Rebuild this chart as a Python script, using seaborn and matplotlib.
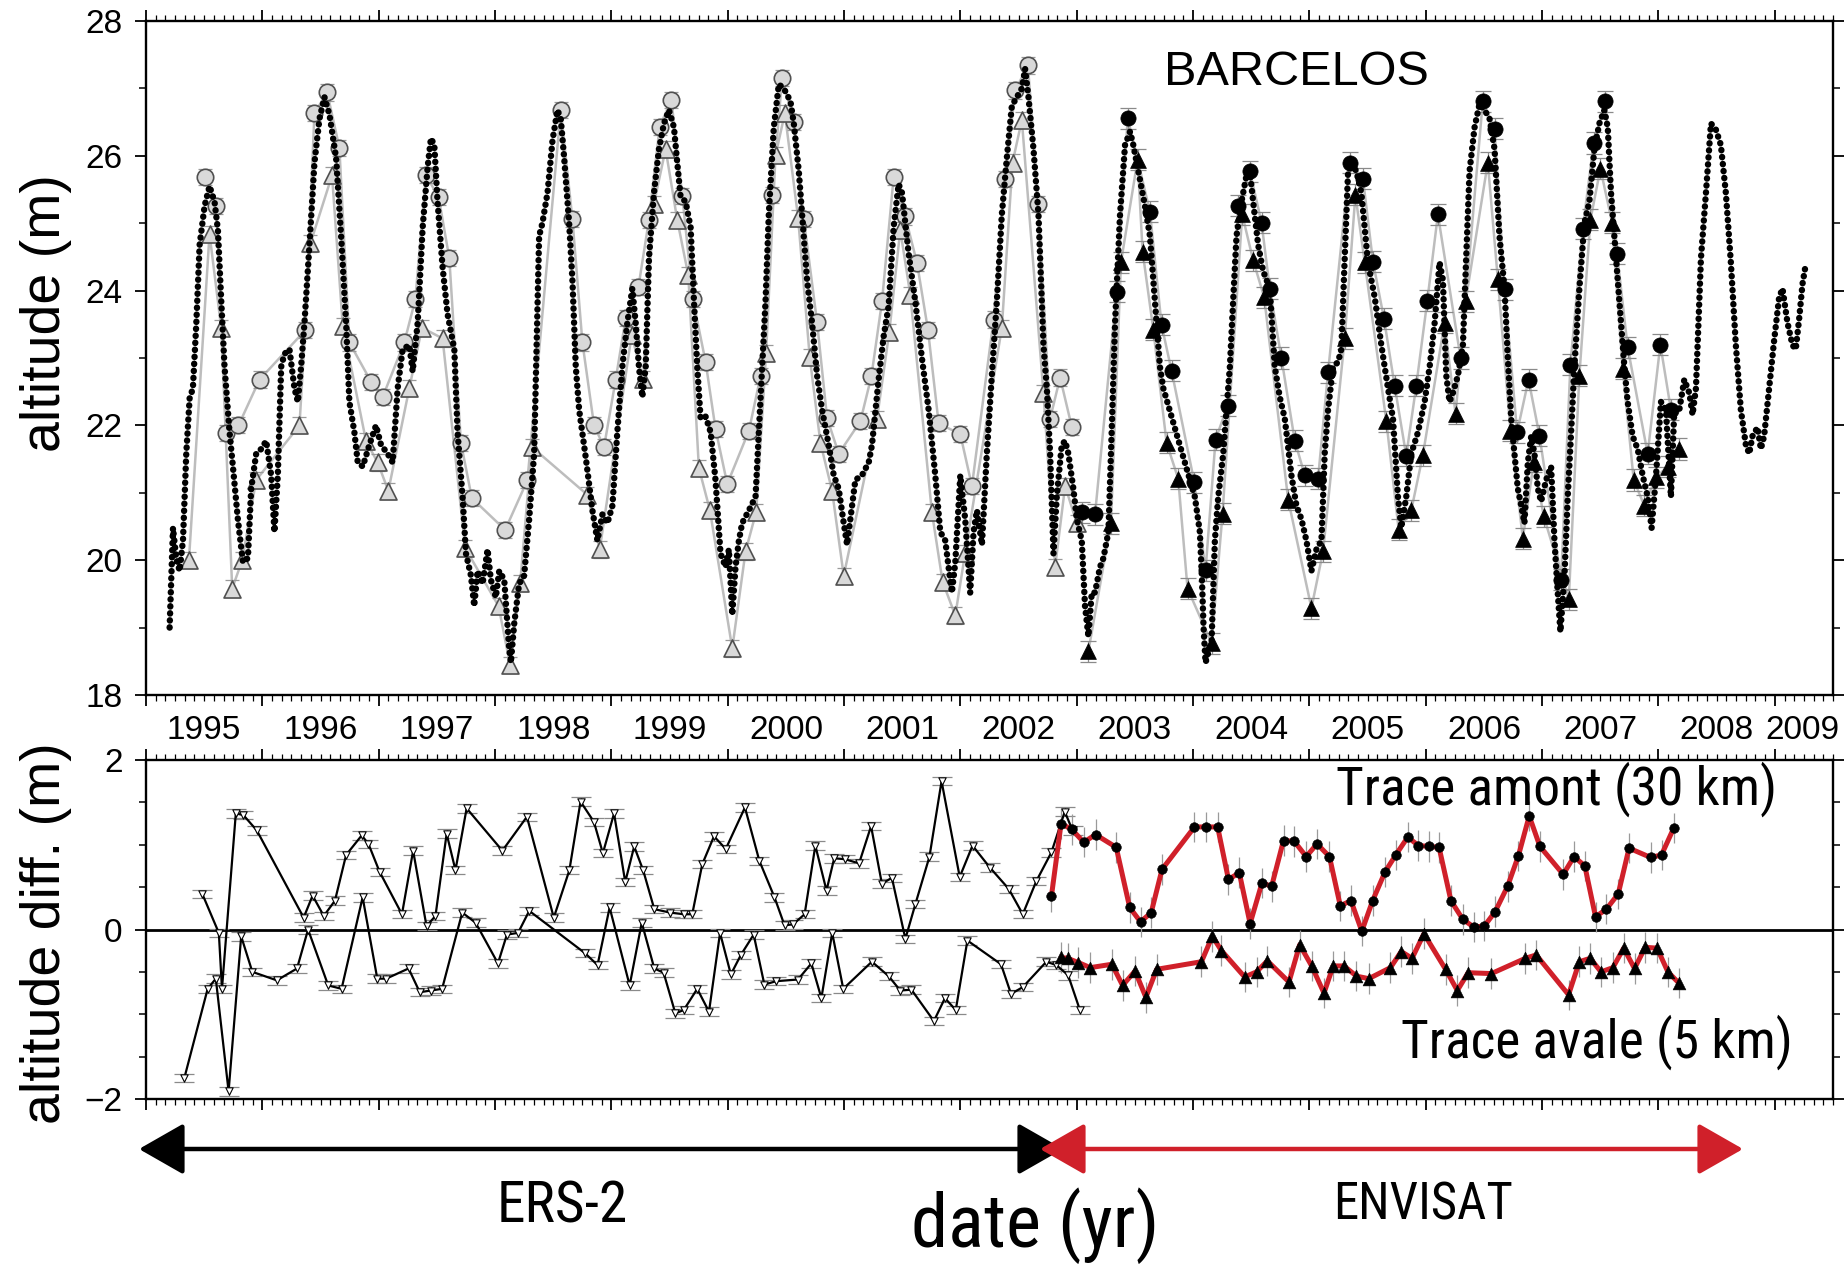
import numpy as np
import matplotlib
matplotlib.use("Agg")
import matplotlib.pyplot as plt
import matplotlib.transforms as mtransforms
from matplotlib import font_manager as fm
from matplotlib.patches import FancyArrowPatch, ArrowStyle
from matplotlib.ticker import MultipleLocator
import seaborn as sns

# ---------------- DATA ----------------
# in-situ gauge at Barcelos (year, altitude m)
gauge = [
    (1995.203, 19.00), (1995.232, 20.48), (1995.260, 20.03), (1995.289, 19.84), (1995.318, 20.30),
    (1995.346, 21.58), (1995.375, 22.40), (1995.403, 22.55), (1995.432, 23.50), (1995.461, 24.68),
    (1995.504, 25.26), (1995.546, 25.55), (1995.589, 25.32), (1995.618, 24.90), (1995.647, 23.84),
    (1995.675, 22.87), (1995.718, 21.90), (1995.747, 21.39), (1995.790, 20.60), (1995.833, 19.97),
    (1995.876, 20.03), (1995.904, 21.06), (1995.947, 21.58), (1995.990, 21.65), (1996.033, 21.77),
    (1996.076, 21.26), (1996.104, 20.42), (1996.133, 21.26), (1996.162, 22.87), (1996.190, 23.06),
    (1996.233, 23.13), (1996.276, 22.55), (1996.305, 22.35), (1996.333, 22.87), (1996.362, 23.52),
    (1996.405, 24.68), (1996.448, 25.90), (1996.491, 26.55), (1996.534, 26.87), (1996.577, 26.61),
    (1996.634, 25.97), (1996.677, 24.81), (1996.720, 23.52), (1996.748, 22.35), (1996.791, 21.90),
    (1996.820, 21.45), (1996.863, 21.39), (1996.920, 21.71), (1996.977, 22.00), (1997.020, 21.71),
    (1997.077, 21.58), (1997.120, 21.45), (1997.163, 22.55), (1997.206, 23.13), (1997.263, 23.19),
    (1997.292, 22.80), (1997.335, 23.52), (1997.378, 24.94), (1997.421, 25.84), (1997.449, 26.26),
    (1997.478, 26.16), (1997.506, 25.32), (1997.549, 24.35), (1997.592, 23.65), (1997.650, 23.13),
    (1997.678, 21.90), (1997.721, 20.94), (1997.750, 20.10), (1997.793, 19.77), (1997.821, 19.32),
    (1997.850, 19.84), (1997.893, 19.65), (1997.936, 20.16), (1997.964, 19.71), (1998.007, 19.45),
    (1998.036, 19.84), (1998.079, 19.71), (1998.122, 18.68), (1998.136, 18.48), (1998.165, 19.06),
    (1998.207, 19.65), (1998.250, 19.77), (1998.293, 20.60), (1998.336, 21.58), (1998.379, 24.81),
    (1998.407, 25.00), (1998.451, 25.45), (1998.494, 26.23), (1998.537, 26.68), (1998.565, 26.55),
    (1998.594, 25.97), (1998.637, 25.00), (1998.665, 24.16), (1998.694, 22.87), (1998.723, 22.23),
    (1998.780, 21.52), (1998.837, 20.74), (1998.880, 20.29), (1998.923, 20.68), (1998.966, 20.55),
    (1999.009, 20.81), (1999.051, 21.90), (1999.094, 22.87), (1999.137, 23.52), (1999.180, 24.03),
    (1999.209, 23.52), (1999.237, 22.87), (1999.266, 22.42), (1999.295, 22.87), (1999.323, 24.48),
    (1999.366, 25.45), (1999.409, 26.10), (1999.452, 26.48), (1999.495, 26.68), (1999.538, 26.42),
    (1999.566, 25.90), (1999.595, 25.39), (1999.638, 25.32), (1999.681, 24.94), (1999.710, 23.84),
    (1999.738, 22.87), (1999.767, 22.10), (1999.810, 22.13), (1999.853, 21.90), (1999.895, 21.19),
    (1999.938, 20.10), (1999.981, 19.90), (2000.010, 20.16), (2000.039, 19.19), (2000.067, 19.90),
    (2000.096, 20.29), (2000.124, 20.55), (2000.182, 20.74), (2000.239, 20.94), (2000.267, 21.90),
    (2000.296, 22.87), (2000.325, 23.84), (2000.353, 25.13), (2000.396, 26.42), (2000.439, 27.06),
    (2000.482, 27.00), (2000.539, 26.81), (2000.568, 26.48), (2000.611, 25.77), (2000.639, 25.13),
    (2000.682, 24.16), (2000.725, 23.52), (2000.768, 22.74), (2000.811, 22.23), (2000.868, 21.71),
    (2000.911, 21.26), (2000.954, 21.06), (2000.997, 20.55), (2001.026, 20.23), (2001.054, 20.61),
    (2001.097, 21.19), (2001.154, 21.26), (2001.212, 21.45), (2001.240, 21.71), (2001.297, 22.68),
    (2001.340, 23.32), (2001.383, 23.77), (2001.426, 24.94), (2001.469, 25.58), (2001.498, 25.45),
    (2001.555, 24.55), (2001.612, 23.84), (2001.669, 23.00), (2001.727, 22.23), (2001.784, 21.26),
    (2001.827, 20.42), (2001.870, 20.29), (2001.898, 19.90), (2001.927, 19.52), (2001.956, 19.97),
    (2001.999, 21.26), (2002.041, 20.61), (2002.084, 19.52), (2002.113, 20.42), (2002.142, 20.74),
    (2002.185, 20.23), (2002.227, 21.58), (2002.270, 22.74), (2002.313, 23.84), (2002.356, 25.13),
    (2002.399, 25.97), (2002.442, 26.74), (2002.485, 26.87), (2002.528, 27.00), (2002.556, 27.29),
    (2002.585, 26.87), (2002.628, 26.10), (2002.671, 25.13), (2002.714, 23.19), (2002.743, 22.55),
    (2002.771, 21.58), (2002.800, 20.10), (2002.828, 20.94), (2002.871, 21.71), (2002.900, 21.77),
    (2002.928, 21.58), (2002.971, 21.06), (2003.000, 20.61), (2003.043, 20.29), (2003.071, 19.32),
    (2003.100, 18.87), (2003.129, 19.52), (2003.157, 19.52), (2003.200, 19.90), (2003.229, 20.03),
    (2003.272, 20.42), (2003.300, 21.90), (2003.329, 23.52), (2003.372, 25.13), (2003.415, 26.16),
    (2003.458, 26.36), (2003.486, 26.16), (2003.529, 25.77), (2003.586, 25.26), (2003.629, 24.81),
    (2003.672, 23.84), (2003.715, 22.87), (2003.744, 22.55), (2004.015, 20.94), (2004.058, 20.42),
    (2004.075, 19.77), (2004.090, 19.00), (2004.107, 18.48), (2004.159, 18.81), (2004.187, 20.29),
    (2004.216, 20.94), (2004.259, 21.58), (2004.287, 22.23), (2004.316, 22.87), (2004.344, 23.84),
    (2004.373, 24.81), (2004.416, 25.32), (2004.459, 25.71), (2004.488, 25.77), (2004.516, 25.32),
    (2004.559, 24.68), (2004.602, 24.29), (2004.659, 24.03), (2004.702, 22.87), (2004.745, 22.42),
    (2004.788, 22.10), (2004.845, 21.26), (2004.888, 20.81), (2004.931, 20.61), (2004.974, 20.29),
    (2005.017, 19.84), (2005.060, 20.16), (2005.103, 20.29), (2005.131, 21.58), (2005.160, 22.23),
    (2005.203, 22.87), (2005.246, 22.94), (2005.274, 23.13), (2005.303, 24.48), (2005.332, 25.77),
    (2005.360, 25.90), (2005.403, 25.77), (2005.446, 25.45), (2005.503, 24.42), (2005.561, 23.90),
    (2005.618, 23.19), (2005.675, 22.55), (2005.718, 22.10), (2005.761, 20.94), (2005.789, 20.48),
    (2005.832, 20.94), (2005.875, 21.58), (2005.933, 21.90), (2005.990, 22.35), (2006.033, 22.87),
    (2006.076, 23.52), (2006.118, 24.42), (2006.147, 24.16), (2006.176, 22.74), (2006.204, 22.35),
    (2006.233, 22.48), (2006.276, 22.74), (2006.319, 23.19), (2006.347, 24.48), (2006.376, 25.77),
    (2006.419, 26.42), (2006.462, 26.77), (2006.505, 26.68), (2006.548, 26.55), (2006.591, 26.10),
    (2006.633, 24.81), (2006.677, 24.03), (2006.705, 23.00), (2006.734, 22.10), (2006.762, 21.58),
    (2006.791, 21.06), (2006.820, 20.81), (2006.848, 20.55), (2006.877, 21.45), (2006.906, 21.84),
    (2006.934, 21.58), (2006.963, 21.06), (2006.991, 20.87), (2007.034, 21.19), (2007.077, 21.39),
    (2007.106, 20.29), (2007.134, 19.52), (2007.157, 18.94), (2007.192, 19.77), (2007.220, 20.94),
    (2007.249, 21.90), (2007.277, 22.87), (2007.320, 24.03), (2007.363, 25.00), (2007.406, 25.32),
    (2007.449, 26.10), (2007.492, 26.48), (2007.535, 26.68), (2007.564, 26.42), (2007.592, 25.45),
    (2007.635, 24.48), (2007.678, 23.52), (2007.707, 22.87), (2007.735, 22.35), (2007.778, 21.84),
    (2007.821, 21.65), (2007.864, 21.26), (2007.907, 20.94), (2007.941, 20.48), (2007.979, 21.26),
    (2008.021, 22.35), (2008.064, 22.23), (2008.107, 20.94), (2008.136, 22.23), (2008.179, 22.23),
    (2008.222, 22.68), (2008.265, 22.48), (2008.293, 22.16), (2008.322, 22.55), (2008.365, 24.48),
    (2008.408, 25.45), (2008.451, 26.48), (2008.493, 26.39), (2008.536, 26.16), (2008.579, 25.45),
    (2008.622, 24.42), (2008.665, 23.19), (2008.708, 22.23), (2008.751, 21.71), (2008.780, 21.58),
    (2008.808, 21.84), (2008.851, 21.97), (2008.880, 21.65), (2008.908, 21.84), (2008.951, 22.55),
    (2008.994, 23.26), (2009.037, 23.90), (2009.066, 24.03), (2009.109, 23.52), (2009.152, 23.19),
    (2009.180, 23.13), (2009.209, 23.58), (2009.238, 24.10), (2009.266, 24.39),
]

# ERS-2 altimetry, upstream track (circles) and downstream track (triangles)
ers_amont_alt = [
    (1995.504, 25.68), (1995.604, 25.25), (1995.690, 21.89), (1995.795, 22.00), (1995.976, 22.68),
    (1996.368, 23.41), (1996.448, 26.63), (1996.557, 26.94), (1996.662, 26.12), (1996.748, 23.23),
    (1996.934, 22.65), (1997.034, 22.42), (1997.220, 23.23), (1997.315, 23.87), (1997.406, 25.71),
    (1997.515, 25.39), (1997.607, 24.48), (1997.707, 21.74), (1997.801, 20.92), (1998.087, 20.45),
    (1998.279, 21.19), (1998.565, 26.68), (1998.665, 25.06), (1998.751, 23.23), (1998.851, 22.00),
    (1998.937, 21.68), (1999.037, 22.68), (1999.123, 23.59), (1999.232, 24.05), (1999.323, 25.05),
    (1999.415, 26.43), (1999.515, 26.83), (1999.610, 25.40), (1999.701, 23.87), (1999.810, 22.94),
    (1999.895, 21.95), (1999.996, 21.13), (2000.182, 21.92), (2000.282, 22.73), (2000.382, 25.42),
    (2000.468, 27.16), (2000.568, 26.50), (2000.654, 25.06), (2000.768, 23.53), (2000.854, 22.11),
    (2000.954, 21.58), (2001.140, 22.06), (2001.235, 22.73), (2001.326, 23.84), (2001.426, 25.68),
    (2001.526, 25.10), (2001.627, 24.41), (2001.721, 23.42), (2001.813, 22.03), (2001.999, 21.87),
    (2002.099, 21.10), (2002.285, 23.57), (2002.385, 25.66), (2002.471, 26.97), (2002.580, 27.34),
    (2002.671, 25.29), (2002.771, 22.10), (2002.857, 22.71), (2002.957, 21.98),
]
ers_avale_alt = [
    (1995.369, 20.00), (1995.546, 24.84), (1995.647, 23.44), (1995.741, 19.58), (1995.827, 20.00),
    (1995.947, 21.19), (1996.319, 22.00), (1996.413, 24.70), (1996.599, 25.71), (1996.691, 23.48),
    (1996.891, 21.77), (1996.991, 21.45), (1997.083, 21.03), (1997.263, 22.55), (1997.372, 23.45),
    (1997.549, 23.29), (1997.744, 20.18), (1998.030, 19.32), (1998.130, 18.44), (1998.216, 19.66),
    (1998.316, 21.68), (1998.794, 20.97), (1998.900, 20.16), (1999.174, 23.34), (1999.272, 22.69),
    (1999.366, 25.29), (1999.466, 26.10), (1999.566, 25.05), (1999.661, 24.23), (1999.752, 21.37),
    (1999.847, 20.74), (2000.039, 18.69), (2000.153, 20.13), (2000.245, 20.72), (2000.330, 23.08),
    (2000.411, 26.01), (2000.491, 26.63), (2000.605, 25.08), (2000.705, 23.01), (2000.797, 21.74),
    (2000.897, 21.03), (2000.997, 19.77), (2001.283, 22.10), (2001.389, 23.39), (2001.483, 24.90),
    (2001.569, 23.94), (2001.755, 20.71), (2001.847, 19.68), (2001.956, 19.18), (2002.041, 20.11),
    (2002.356, 23.45), (2002.448, 25.90), (2002.528, 26.53), (2002.714, 22.48), (2002.814, 19.90),
    (2002.900, 21.10), (2003.000, 20.55),
]
# ENVISAT altimetry, upstream (circles) and downstream (triangles)
env_amont_alt = [
    (2003.043, 20.71), (2003.157, 20.68), (2003.343, 23.98), (2003.438, 26.56), (2003.629, 25.17),
    (2003.729, 23.49), (2003.815, 22.81), (2004.010, 21.16), (2004.107, 19.85), (2004.193, 21.79),
    (2004.296, 22.29), (2004.387, 25.26), (2004.488, 25.77), (2004.588, 25.01), (2004.659, 24.03),
    (2004.759, 23.00), (2004.874, 21.77), (2004.960, 21.26), (2005.074, 21.21), (2005.160, 22.79),
    (2005.346, 25.90), (2005.460, 25.66), (2005.546, 24.43), (2005.641, 23.58), (2005.732, 22.59),
    (2005.832, 21.55), (2005.918, 22.59), (2006.013, 23.85), (2006.104, 25.13), (2006.299, 23.00),
    (2006.490, 26.81), (2006.591, 26.40), (2006.677, 24.02), (2006.785, 21.90), (2006.883, 22.68),
    (2006.977, 21.85), (2007.163, 19.71), (2007.243, 22.90), (2007.349, 24.92), (2007.443, 26.19),
    (2007.544, 26.81), (2007.644, 24.55), (2007.735, 23.16), (2007.907, 21.58), (2008.016, 23.20),
    (2008.107, 22.23),
]
env_avale_alt = [
    (2003.100, 18.65), (2003.294, 20.55), (2003.380, 24.42), (2003.523, 25.94), (2003.566, 24.58),
    (2003.658, 23.42), (2003.772, 21.74), (2003.872, 21.21), (2003.952, 19.58), (2004.159, 18.77),
    (2004.253, 20.69), (2004.422, 25.13), (2004.516, 24.45), (2004.611, 23.90), (2004.817, 20.90),
    (2005.017, 19.29), (2005.117, 20.13), (2005.303, 23.29), (2005.395, 25.42), (2005.475, 24.42),
    (2005.661, 22.06), (2005.767, 20.45), (2005.875, 20.74), (2005.975, 21.56), (2006.161, 23.52),
    (2006.256, 22.17), (2006.342, 23.84), (2006.533, 25.90), (2006.619, 24.17), (2006.728, 21.92),
    (2006.834, 20.32), (2006.928, 21.46), (2007.014, 20.65), (2007.229, 19.42), (2007.320, 22.74),
    (2007.415, 25.05), (2007.501, 25.81), (2007.601, 25.01), (2007.692, 22.84), (2007.787, 21.19),
    (2007.878, 20.81), (2007.979, 21.23), (2008.079, 21.39), (2008.179, 21.65),
]

# altitude differences (satellite - gauge), m
ers_amont_diff = [
    (1995.484, 0.42), (1995.626, -0.04), (1995.653, -0.70), (1995.772, 1.37), (1995.837, 1.35),
    (1995.952, 1.17), (1996.355, 0.14), (1996.432, 0.40), (1996.528, 0.16), (1996.624, 0.34),
    (1996.720, 0.88), (1996.854, 1.11), (1996.912, 1.01), (1997.008, 0.68), (1997.200, 0.18),
    (1997.296, 0.93), (1997.411, 0.04), (1997.488, 0.16), (1997.584, 1.13), (1997.660, 0.70),
    (1997.756, 1.43), (1998.063, 0.93), (1998.274, 1.33), (1998.505, 0.14), (1998.639, 0.70),
    (1998.735, 1.51), (1998.850, 1.27), (1998.927, 0.90), (1999.023, 1.37), (1999.119, 0.56),
    (1999.196, 0.98), (1999.273, 0.70), (1999.369, 0.24), (1999.503, 0.20), (1999.622, 0.18),
    (1999.695, 0.18), (1999.781, 0.77), (1999.882, 1.10), (1999.983, 0.95), (2000.148, 1.44),
    (2000.272, 0.81), (2000.402, 0.38), (2000.488, 0.05), (2000.560, 0.06), (2000.661, 0.18),
    (2000.753, 0.99), (2000.849, 0.46), (2000.915, 0.84), (2001.007, 0.83), (2001.129, 0.78),
    (2001.232, 1.22), (2001.325, 0.54), (2001.411, 0.61), (2001.527, -0.11), (2001.613, 0.30),
    (2001.734, 0.86), (2001.838, 1.75), (2001.994, 0.62), (2002.104, 0.99), (2002.254, 0.73),
    (2002.415, 0.48), (2002.536, 0.18), (2002.652, 0.57), (2002.782, 0.91), (2002.897, 1.39),
    (2002.964, 1.17),
]
ers_avale_diff = [
    (1995.330, -1.75), (1995.530, -0.70), (1995.600, -0.58), (1995.710, -1.91), (1995.818, -0.08),
    (1995.914, -0.50), (1996.125, -0.60), (1996.298, -0.46), (1996.393, 0.00), (1996.566, -0.66),
    (1996.681, -0.70), (1996.862, 0.38), (1996.988, -0.58), (1997.065, -0.58), (1997.257, -0.46),
    (1997.353, -0.74), (1997.449, -0.72), (1997.545, -0.70), (1997.718, 0.20), (1997.833, 0.08),
    (1998.025, -0.40), (1998.102, -0.06), (1998.198, -0.04), (1998.294, 0.22), (1998.774, -0.28),
    (1998.881, -0.42), (1998.985, 0.26), (1999.157, -0.66), (1999.261, 0.08), (1999.369, -0.46),
    (1999.449, -0.51), (1999.550, -0.99), (1999.622, -0.95), (1999.738, -0.70), (1999.839, -0.97),
    (1999.934, -0.04), (2000.027, -0.53), (2000.113, -0.30), (2000.223, -0.06), (2000.315, -0.65),
    (2000.416, -0.61), (2000.604, -0.59), (2000.719, -0.40), (2000.805, -0.81), (2000.898, -0.04),
    (2000.993, -0.70), (2001.239, -0.38), (2001.383, -0.55), (2001.483, -0.72), (2001.579, -0.71),
    (2001.772, -1.08), (2001.867, -0.81), (2001.960, -0.95), (2002.060, -0.13), (2002.349, -0.41),
    (2002.435, -0.76), (2002.536, -0.68), (2002.739, -0.38), (2002.825, -0.42), (2002.926, -0.54),
    (2003.027, -0.95),
]
env_amont_diff = [
    (2002.782, 0.39), (2002.865, 1.25), (2002.958, 1.18), (2003.060, 1.03), (2003.162, 1.12),
    (2003.339, 0.97), (2003.455, 0.26), (2003.548, 0.09), (2003.640, 0.20), (2003.733, 0.71),
    (2004.012, 1.21), (2004.114, 1.21), (2004.211, 1.21), (2004.304, 0.59), (2004.397, 0.67),
    (2004.490, 0.07), (2004.592, 0.55), (2004.675, 0.51), (2004.777, 1.05), (2004.870, 1.04),
    (2004.972, 0.86), (2005.065, 1.01), (2005.172, 0.86), (2005.265, 0.28), (2005.357, 0.34),
    (2005.450, -0.02), (2005.543, 0.34), (2005.650, 0.68), (2005.742, 0.88), (2005.845, 1.09),
    (2005.937, 0.99), (2006.030, 0.98), (2006.114, 0.97), (2006.216, 0.34), (2006.318, 0.12),
    (2006.411, 0.03), (2006.503, 0.04), (2006.596, 0.21), (2006.703, 0.51), (2006.796, 0.87),
    (2006.889, 1.34), (2006.981, 0.98), (2007.181, 0.65), (2007.274, 0.86), (2007.367, 0.75),
    (2007.459, 0.15), (2007.552, 0.24), (2007.654, 0.42), (2007.747, 0.96), (2007.933, 0.85),
    (2008.026, 0.88), (2008.132, 1.20),
]
env_avale_diff = [
    (2002.865, -0.33), (2002.921, -0.34), (2003.014, -0.39), (2003.116, -0.45), (2003.302, -0.41),
    (2003.394, -0.66), (2003.501, -0.49), (2003.594, -0.80), (2003.687, -0.47), (2004.072, -0.38),
    (2004.165, -0.08), (2004.244, -0.25), (2004.443, -0.56), (2004.545, -0.50), (2004.638, -0.37),
    (2004.824, -0.62), (2004.916, -0.18), (2005.019, -0.43), (2005.125, -0.75), (2005.204, -0.43),
    (2005.297, -0.43), (2005.404, -0.55), (2005.510, -0.58), (2005.696, -0.45), (2005.789, -0.26),
    (2005.882, -0.34), (2005.984, -0.05), (2006.170, -0.47), (2006.271, -0.72), (2006.364, -0.51),
    (2006.564, -0.52), (2006.856, -0.34), (2006.949, -0.30), (2007.227, -0.77), (2007.320, -0.38),
    (2007.413, -0.34), (2007.506, -0.50), (2007.608, -0.45), (2007.701, -0.22), (2007.794, -0.46),
    (2007.886, -0.21), (2007.988, -0.22), (2008.081, -0.50), (2008.174, -0.63),
]
alt_err = 0.12       # altimetry error bar, top panel (m)
ers_diff_err = 0.05  # ERS-2 difference error bar (m)
env_diff_err = 0.18  # ENVISAT difference error bar (m)

year_labels = list(range(1995, 2010))
station = "BARCELOS"
trace_up = "Trace amont (30 km)"
trace_down = "Trace avale (5 km)"


def xy(pts):
    a = np.array(pts, dtype=float)
    return a[:, 0], a[:, 1]


# ---------------- STYLE ----------------
sns.set_theme(style="ticks")
plt.rcParams["font.family"] = ["Liberation Sans", "DejaVu Sans"]
for k in ("text.color", "axes.labelcolor", "xtick.color", "ytick.color", "axes.edgecolor"):
    plt.rcParams[k] = "black"

# choose a condensed face if one is installed, else fall back to a smaller regular face
_names = {f.name for f in fm.fontManager.ttflist}
NARROW = None
for cand in ("Liberation Sans Narrow", "Roboto Condensed", "Open Sans Condensed"):
    if cand in _names:
        NARROW = dict(family=[cand, "DejaVu Sans"])
        break
if NARROW is None:
    for f in fm.fontManager.ttflist:
        if f.name == "DejaVu Sans" and str(f.stretch) in ("condensed", "semi-condensed"):
            NARROW = dict(family=["DejaVu Sans"], stretch="condensed")
            break
if NARROW is None:
    NARROW = dict(family=["Liberation Sans", "DejaVu Sans"])
    nscale = 1.0
else:
    nscale = 1.18

W, H = 1847, 1264
fig = plt.figure(figsize=(W / 100, H / 100), dpi=100)
fig.patch.set_facecolor("white")
ax1 = fig.add_axes([146 / W, 1 - 695 / H, 1687 / W, 674 / H])
ax2 = fig.add_axes([146 / W, 1 - 1099 / H, 1687 / W, 339 / H])

GREY_LINE = "#bdbdbd"
GREY_FILL = "#d9d9d9"
RED = "#d0202a"

# ---------------- TOP PANEL ----------------
for pts in (ers_amont_alt, ers_avale_alt, env_amont_alt, env_avale_alt):
    x, y = xy(pts)
    sns.lineplot(x=x, y=y, ax=ax1, sort=False, estimator=None, color=GREY_LINE,
                 linewidth=1.8, zorder=1, legend=False)

for pts in (ers_amont_alt, ers_avale_alt):
    x, y = xy(pts)
    ax1.errorbar(x, y, yerr=alt_err, fmt="none", ecolor="#9a9a9a", elinewidth=0.9,
                 capsize=5, capthick=0.9, zorder=2)
for pts in (env_amont_alt, env_avale_alt):
    x, y = xy(pts)
    ax1.errorbar(x, y, yerr=alt_err * 1.3, fmt="none", ecolor="#8a8a8a", elinewidth=0.9,
                 capsize=6, capthick=0.9, zorder=2)

x, y = xy(ers_amont_alt)
sns.scatterplot(x=x, y=y, ax=ax1, marker="o", s=140, color=GREY_FILL,
                edgecolor="#505050", linewidth=1.2, zorder=3, legend=False)
x, y = xy(ers_avale_alt)
sns.scatterplot(x=x, y=y, ax=ax1, marker="^", s=150, color=GREY_FILL,
                edgecolor="#505050", linewidth=1.2, zorder=3, legend=False)

# gauge record as dense dots
gx, gy = xy(gauge)
sns.lineplot(x=gx, y=gy, ax=ax1, sort=False, estimator=None, color="black",
             linewidth=4.6, zorder=4, legend=False)
gline = ax1.lines[-1]
gline.set_linestyle((0, (0.05, 1.05)))
gline.set_dash_capstyle("round")

x, y = xy(env_amont_alt)
sns.scatterplot(x=x, y=y, ax=ax1, marker="o", s=120, color="black",
                edgecolor="black", linewidth=0.5, zorder=5, legend=False)
x, y = xy(env_avale_alt)
sns.scatterplot(x=x, y=y, ax=ax1, marker="^", s=130, color="black",
                edgecolor="black", linewidth=0.5, zorder=5, legend=False)

ax1.text(2004.89, 27.23, station, ha="center", va="center", fontsize=35, color="black")

ax1.set_ylim(18, 28)
ax1.yaxis.set_major_locator(MultipleLocator(2))
ax1.yaxis.set_minor_locator(MultipleLocator(1))
ax1.set_ylabel("altitude (m)", fontsize=40)
ax1.yaxis.set_label_coords(-0.044, 0.567)

# year labels under the top panel, centred on each year
trans = mtransforms.blended_transform_factory(ax1.transData, ax1.transAxes)
for yr in year_labels:
    pos = min(yr + 0.5, 2009.24)
    ax1.text(pos, -0.052, str(yr), transform=trans, ha="center", va="center", fontsize=24)

# ---------------- BOTTOM PANEL ----------------
ax2.axhline(0, color="black", linewidth=2.0, zorder=1)

for pts in (ers_amont_diff, ers_avale_diff):
    x, y = xy(pts)
    ax2.errorbar(x, y, yerr=ers_diff_err, fmt="none", ecolor="#8a8a8a", elinewidth=0.8,
                 capsize=7, capthick=0.9, zorder=2)
    sns.lineplot(x=x, y=y, ax=ax2, sort=False, estimator=None, color="black",
                 linewidth=1.6, zorder=3, legend=False)
    sns.scatterplot(x=x, y=y, ax=ax2, marker="v", s=28, color="white",
                    edgecolor="black", linewidth=0.8, zorder=4, legend=False)

for pts, mk, sz in ((env_amont_diff, "o", 48), (env_avale_diff, "^", 85)):
    x, y = xy(pts)
    ax2.errorbar(x, y, yerr=env_diff_err, fmt="none", ecolor="#9a9a9a", elinewidth=0.9,
                 capsize=0, zorder=2)
    sns.lineplot(x=x, y=y, ax=ax2, sort=False, estimator=None, color=RED,
                 linewidth=3.6, zorder=3, legend=False)
    sns.scatterplot(x=x, y=y, ax=ax2, marker=mk, s=sz, color="black",
                    edgecolor="black", linewidth=0.4, zorder=5, legend=False)

ax2.text(2007.12, 1.65, trace_up, ha="center", va="center", fontsize=32.6 * nscale,
         color="black", **NARROW)
ax2.text(2007.47, -1.33, trace_down, ha="center", va="center", fontsize=32.6 * nscale,
         color="black", **NARROW)

ax2.set_ylim(-2, 2)
ax2.yaxis.set_major_locator(MultipleLocator(2))
ax2.yaxis.set_minor_locator(MultipleLocator(0.5))
ax2.set_ylabel("altitude diff. (m)", fontsize=40)
ax2.yaxis.set_label_coords(-0.044, 0.49)

# ---------------- AXES STYLING ----------------
for ax in (ax1, ax2):
    ax.set_facecolor("white")
    ax.set_xlim(1995, 2009.5)
    ax.set_xlabel("")
    ax.xaxis.set_major_locator(MultipleLocator(1))
    ax.xaxis.set_minor_locator(MultipleLocator(1 / 12))
    ax.tick_params(axis="x", which="both", direction="out", top=True, bottom=True,
                   labelbottom=False, labeltop=False, color="black")
    ax.tick_params(axis="x", which="major", length=8, width=1.3)
    ax.tick_params(axis="x", which="minor", length=4, width=0.9)
    ax.tick_params(axis="y", which="both", direction="out", left=True, right=True,
                   labelright=False, color="black")
    ax.tick_params(axis="y", which="major", length=8, width=1.3, labelsize=24, pad=9)
    ax.tick_params(axis="y", which="minor", length=5, width=1.1)
    for sp in ax.spines.values():
        sp.set_visible(True)
        sp.set_linewidth(1.7)
        sp.set_color("black")

# ---------------- SATELLITE PERIOD ARROWS ----------------
yA = 1 - 1149 / H
style = ArrowStyle("<|-|>", head_length=28, head_width=16)
fig.add_artist(FancyArrowPatch((139 / W, yA), (1063 / W, yA), transform=fig.transFigure,
                               arrowstyle=style, mutation_scale=1, color="black",
                               linewidth=3.2, shrinkA=0, shrinkB=0))
fig.add_artist(FancyArrowPatch((1040 / W, yA), (1743 / W, yA), transform=fig.transFigure,
                               arrowstyle=style, mutation_scale=1, color=RED,
                               linewidth=3.2, shrinkA=0, shrinkB=0))

fig.text(562 / W, 1 - 1207 / H, "ERS-2", ha="center", va="center", fontsize=35 * nscale,
         color="black", **NARROW)
fig.text(1423 / W, 1 - 1205 / H, "ENVISAT", ha="center", va="center", fontsize=31 * nscale,
         color="black", **NARROW)
fig.text(1035 / W, 1 - 1226 / H, "date (yr)", ha="center", va="center", fontsize=45.5 * nscale,
         color="black", **NARROW)

fig.savefig("out.png", dpi=100, facecolor="white")
